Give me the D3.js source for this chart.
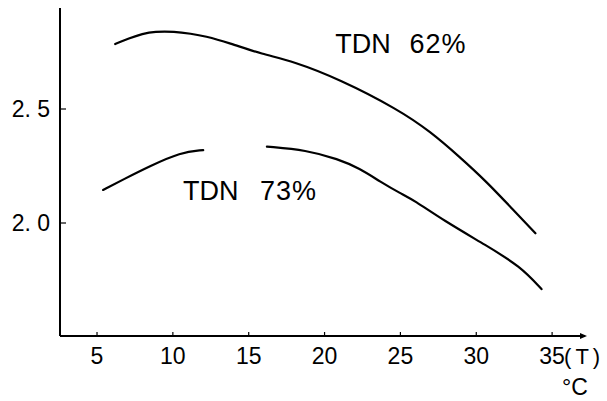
<!DOCTYPE html>
<html>
<head>
<meta charset="utf-8">
<script src="https://cdn.jsdelivr.net/npm/d3@7"></script>
<style>
  body { margin: 0; background: #fff; }
  svg { display: block; font-family: "Liberation Sans", Arial, sans-serif; }
</style>
</head>
<body>
<svg id="chart"></svg>
<script>
// temperature (°C) and value
var tempTicks = [5, 10, 15, 20, 25, 30, 35];
var valueTicks = [2.0, 2.5];

var tdn62Temp = [6.2, 7.1, 8.0, 8.8, 10.1, 11.2, 12.1, 13.7, 15.9, 17.9, 21.0, 24.8, 27.0, 28.9, 30.7, 32.4, 33.9];
var tdn62Value = [2.785, 2.81, 2.83, 2.84, 2.84, 2.83, 2.82, 2.79, 2.74, 2.71, 2.63, 2.50, 2.40, 2.29, 2.18, 2.06, 1.955];

// null = gap in the drawn curve
var tdn73Temp = [5.4, 6.7, 8.5, 10.5, 12.0, 14.0, 16.2, 18.8, 20.9, 22.3, 23.7, 25.0, 25.9, 27.8, 30.7, 32.9, 34.3];
var tdn73Value = [2.145, 2.19, 2.25, 2.31, 2.32, null, 2.335, 2.32, 2.28, 2.24, 2.18, 2.13, 2.10, 2.013, 1.90, 1.81, 1.71];

var width = 607, height = 401;
var svg = d3.select("#chart").attr("width", width).attr("height", height);

var x = d3.scaleLinear().domain([2.56, 37.3]).range([60, 587]);
var y = d3.scaleLinear().domain([1.5044, 2.943]).range([336, 8]);

var fontSize = 23;

// axes
svg.append("line")
  .attr("x1", x.range()[0]).attr("x2", x.range()[0])
  .attr("y1", y.range()[1]).attr("y2", y.range()[0])
  .attr("stroke", "#000").attr("stroke-width", 2);

svg.append("line")
  .attr("x1", x.range()[0]).attr("x2", x.range()[1] - 2)
  .attr("y1", y.range()[0]).attr("y2", y.range()[0])
  .attr("stroke", "#000").attr("stroke-width", 2);

// small arrow head at the end of x axis
svg.append("path")
  .attr("d", "M" + x.range()[1] + "," + y.range()[0] + " l-7,-3 l0,6 z")
  .attr("fill", "#000");

// x ticks
svg.selectAll("line.xtick")
  .data(tempTicks)
  .enter()
  .append("line")
  .attr("class", "xtick")
  .attr("x1", d => x(d)).attr("x2", d => x(d))
  .attr("y1", y.range()[0]).attr("y2", y.range()[0] - 4)
  .attr("stroke", "#000").attr("stroke-width", 1.2);

svg.selectAll("text.xlabel")
  .data(tempTicks)
  .enter()
  .append("text")
  .attr("class", "xlabel")
  .attr("x", d => x(d))
  .attr("y", y.range()[0] + 28)
  .attr("text-anchor", "middle")
  .style("font-size", fontSize + "px")
  .text(d => d);

// y ticks
svg.selectAll("line.ytick")
  .data(valueTicks)
  .enter()
  .append("line")
  .attr("class", "ytick")
  .attr("x1", x.range()[0]).attr("x2", x.range()[0] + 6)
  .attr("y1", d => y(d)).attr("y2", d => y(d))
  .attr("stroke", "#000").attr("stroke-width", 1.2);

svg.selectAll("text.ylabel")
  .data(valueTicks)
  .enter()
  .append("text")
  .attr("class", "ylabel")
  .attr("x", 50)
  .attr("y", d => y(d) + 8)
  .attr("text-anchor", "end")
  .style("font-size", fontSize + "px")
  .text(d => d3.format(".1f")(d).replace(".", ". "));

// unit labels
svg.append("text")
  .attr("x", x(35) + 12)
  .attr("y", y.range()[0] + 28)
  .style("font-size", "22px")
  .style("letter-spacing", "4px")
  .text("(T)");

svg.append("text")
  .attr("x", x(35) + 10)
  .attr("y", y.range()[0] + 59)
  .style("font-size", fontSize + "px")
  .text("°C");

// curves
var line = d3.line()
  .defined(d => d[1] != null)
  .curve(d3.curveBasis)
  .x(d => x(d[0]))
  .y(d => y(d[1]));

svg.append("path")
  .datum(d3.zip(tdn62Temp, tdn62Value))
  .attr("fill", "none")
  .attr("stroke", "#000")
  .attr("stroke-width", 2.2)
  .attr("stroke-linecap", "round")
  .attr("d", line);

svg.append("path")
  .datum(d3.zip(tdn73Temp, tdn73Value))
  .attr("fill", "none")
  .attr("stroke", "#000")
  .attr("stroke-width", 2.2)
  .attr("stroke-linecap", "round")
  .attr("d", line);

// curve labels
var labelSize = 27;
svg.append("text").attr("x", x(20.7)).attr("y", y(2.746))
  .style("font-size", labelSize + "px").text("TDN");
svg.append("text").attr("x", x(25.6)).attr("y", y(2.746))
  .style("font-size", labelSize + "px").style("letter-spacing", "1px").text("62%");

svg.append("text").attr("x", x(10.67)).attr("y", y(2.10))
  .style("font-size", labelSize + "px").text("TDN");
svg.append("text").attr("x", x(15.75)).attr("y", y(2.10))
  .style("font-size", labelSize + "px").style("letter-spacing", "1px").text("73%");
</script>
</body>
</html>
